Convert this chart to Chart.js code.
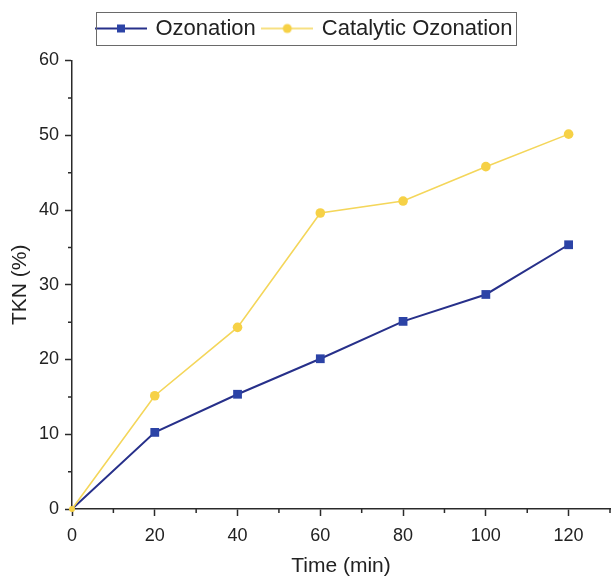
<!DOCTYPE html>
<html>
<head>
<meta charset="utf-8">
<script src="https://cdn.jsdelivr.net/npm/chart.js@4/dist/chart.umd.min.js"></script>
<style>
  html, body { margin: 0; padding: 0; background: #ffffff; }
  #wrap { width: 611px; height: 579px; position: relative; }
</style>
</head>
<body>
<div id="wrap"><canvas id="c" width="611" height="579"></canvas></div>
<script>
// ---- data ----
const timeMin = [0, 20, 40, 60, 80, 100, 120];
const ozonation = [0, 10.25, 15.35, 20.1, 25.1, 28.7, 35.35];
const catalyticOzonation = [0, 15.15, 24.3, 39.6, 41.2, 45.8, 50.15];
const seriesNames = ['Ozonation', 'Catalytic Ozonation'];
const xTickValues = [0, 20, 40, 60, 80, 100, 120];
const yTickValues = [0, 10, 20, 30, 40, 50, 60];
const xMinorTicks = [10, 30, 50, 70, 90, 110, 130];
const yMinorTicks = [5, 15, 25, 35, 45, 55];

const BLUE_LINE = '#27308a';
const BLUE_PT = '#2c43a6';
const YEL_LINE = '#f4d65a';
const YEL_PT = '#f6d146';
const AXIS = '#2a2a2a';
const TEXT = '#222222';
const FONT = 'Liberation Sans, Arial, sans-serif';

function legendIcon(lineColor, ptColor, shape) {
  const c = document.createElement('canvas');
  c.width = 52; c.height = 14;
  const g = c.getContext('2d');
  g.strokeStyle = lineColor;
  g.lineWidth = shape === 'rect' ? 2 : 1.6;
  g.beginPath(); g.moveTo(0, 7); g.lineTo(52, 7); g.stroke();
  g.fillStyle = ptColor;
  if (shape === 'rect') { g.fillRect(22, 3, 8, 8); }
  else { g.beginPath(); g.arc(26, 7, 4.5, 0, Math.PI * 2); g.fill(); }
  return c;
}
const icons = [legendIcon(BLUE_LINE, BLUE_PT, 'rect'), legendIcon(YEL_LINE, YEL_PT, 'circle')];

const toXY = (xs, ys) => xs.map((x, i) => ({ x: x, y: ys[i] }));

const minorTicksPlugin = {
  id: 'minorTicks',
  afterDraw(chart) {
    const ctx = chart.ctx;
    const xs = chart.scales.x, ys = chart.scales.y;
    ctx.save();
    ctx.strokeStyle = AXIS;
    ctx.lineWidth = 1.5;
    ctx.beginPath();
    xMinorTicks.forEach(v => {
      const px = xs.getPixelForValue(v);
      ctx.moveTo(px, xs.top); ctx.lineTo(px, xs.top + 4);
    });
    yMinorTicks.forEach(v => {
      const py = ys.getPixelForValue(v);
      ctx.moveTo(ys.right, py); ctx.lineTo(ys.right - 4, py);
    });
    ctx.stroke();
    ctx.restore();
  }
};

const legendBoxPlugin = {
  id: 'legendBox',
  afterDraw(chart) {
    const hb = chart.legend && chart.legend.legendHitBoxes;
    if (!hb || !hb.length) return;
    const first = hb[0], last = hb[hb.length - 1];
    const left = first.left - 1;
    const right = last.left + last.width + 4;
    const top = first.top - 5.5;
    const bottom = first.top + first.height + 5;
    const ctx = chart.ctx;
    ctx.save();
    ctx.strokeStyle = '#6a6a6a';
    ctx.lineWidth = 1;
    ctx.strokeRect(Math.round(left) + 0.5, Math.round(top) + 0.5, Math.round(right - left), Math.round(bottom - top));
    ctx.restore();
  }
};

// spacer layout box between legend and chart area
const spacerPlugin = {
  id: 'legendSpacer',
  beforeInit(chart) {
    const box = {
      position: 'top', weight: 0, fullSize: true,
      options: {},
      left: 0, top: 0, right: 0, bottom: 0, width: 0, height: 0,
      isHorizontal() { return true; },
      update(maxWidth) { this.width = maxWidth; this.height = 11; },
      draw() {}
    };
    Chart.layouts.addBox(chart, box);
  }
};

new Chart(document.getElementById('c'), {
  type: 'line',
  data: {
    datasets: [
      {
        label: seriesNames[0],
        data: toXY(timeMin, ozonation),
        borderColor: BLUE_LINE,
        backgroundColor: BLUE_PT,
        borderWidth: 2,
        pointStyle: 'rect',
        pointRadius: ozonation.map((v, i) => i === 0 ? 0 : 6.2),
        pointBorderWidth: 0,
        pointBackgroundColor: BLUE_PT,
        tension: 0,
        clip: false,
        order: 2
      },
      {
        label: seriesNames[1],
        data: toXY(timeMin, catalyticOzonation),
        borderColor: YEL_LINE,
        backgroundColor: YEL_PT,
        borderWidth: 1.6,
        pointStyle: 'circle',
        pointRadius: catalyticOzonation.map((v, i) => i === 0 ? 3 : 4.8),
        pointBorderWidth: 0,
        pointBackgroundColor: YEL_PT,
        tension: 0,
        clip: false,
        order: 1
      }
    ]
  },
  options: {
    responsive: false,
    animation: false,
    devicePixelRatio: 1,
    layout: { autoPadding: false, padding: { left: 0, right: 1, top: 9.5, bottom: 0 } },
    plugins: {
      tooltip: { enabled: false },
      legend: {
        display: true,
        position: 'top',
        padding: 0,
        labels: {
          usePointStyle: true,
          pointStyleWidth: 47,
          padding: 8,
          color: TEXT,
          font: { family: FONT, size: 22 },
          generateLabels(chart) {
            return chart.data.datasets.map((ds, i) => ({
              text: ds.label,
              pointStyle: icons[i],
              fillStyle: 'transparent',
              strokeStyle: 'transparent',
              lineWidth: 0,
              fontColor: TEXT,
              datasetIndex: i,
              hidden: false
            }));
          }
        }
      }
    },
    scales: {
      x: {
        type: 'linear',
        min: 0,
        max: 130,
        afterBuildTicks(scale) { scale.ticks = xTickValues.map(v => ({ value: v })); },
        afterFit(scale) { scale.height = 70; scale.paddingRight = 0; scale.paddingLeft = 0; },
        ticks: {
          color: TEXT,
          font: { family: FONT, size: 18 },
          padding: 9,
          maxRotation: 0
        },
        grid: {
          drawOnChartArea: false,
          drawTicks: true,
          tickLength: 7,
          tickColor: AXIS,
          tickWidth: 1.5
        },
        border: { display: true, color: AXIS, width: 1.5 },
        title: {
          display: true,
          text: 'Time (min)',
          color: TEXT,
          font: { family: FONT, size: 21 },
          padding: { top: 2, bottom: 0 }
        }
      },
      y: {
        type: 'linear',
        min: 0,
        max: 60,
        afterBuildTicks(scale) { scale.ticks = yTickValues.map(v => ({ value: v })); },
        afterFit(scale) { scale.width = 72; },
        ticks: {
          color: TEXT,
          font: { family: FONT, size: 18 },
          padding: 6
        },
        grid: {
          drawOnChartArea: false,
          drawTicks: true,
          tickLength: 7,
          tickColor: AXIS,
          tickWidth: 1.5
        },
        border: { display: true, color: AXIS, width: 1.5 },
        title: {
          display: true,
          text: 'TKN (%)',
          color: TEXT,
          font: { family: FONT, size: 21 },
          padding: { top: 7.5, bottom: 2 }
        }
      }
    }
  },
  plugins: [spacerPlugin, minorTicksPlugin, legendBoxPlugin]
});
</script>
</body>
</html>
